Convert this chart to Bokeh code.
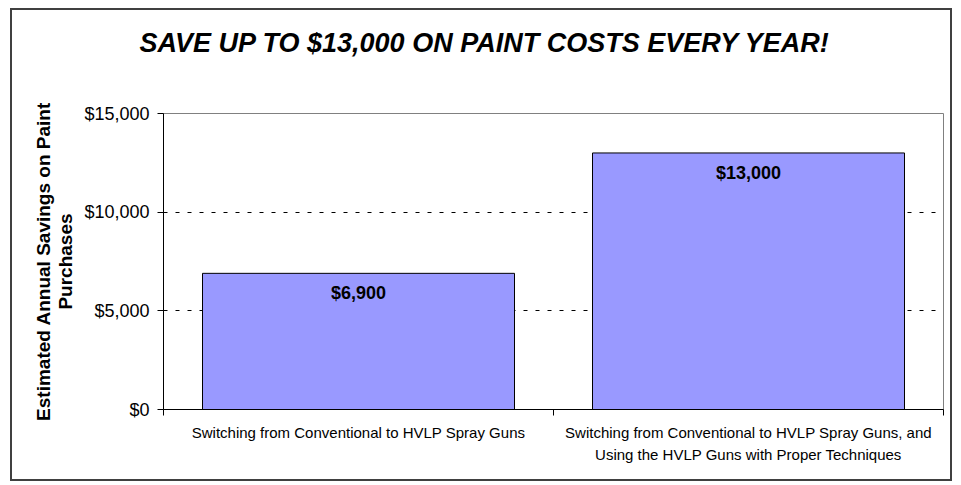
from bokeh.plotting import figure
from bokeh.models import FixedTicker, NumeralTickFormatter, ColumnDataSource, Title
from bokeh.embed import file_html
from bokeh.resources import INLINE
from bokeh.core.properties import value

categories = ["Switching from Conventional to HVLP Spray Guns",
              "Switching from Conventional to HVLP Spray Guns, and\nUsing the HVLP Guns with Proper Techniques"]
savings = [6900, 13000]
bar_labels = ["$6,900", "$13,000"]
y_ticks = [0, 5000, 10000, 15000]
title_text = "SAVE UP TO $13,000 ON PAINT COSTS EVERY YEAR!"
y_label = "Estimated Annual Savings on Paint\nPurchases"

FONT = "Liberation Sans"

xs = [i + 0.5 for i in range(len(categories))]
src = ColumnDataSource(dict(x=xs, top=savings, label=bar_labels))

p = figure(width=942, height=473, output_backend="svg", toolbar_location=None,
           x_range=(0, len(categories)), y_range=(0, y_ticks[-1]),
           min_border_left=151, min_border_right=11, min_border_top=103, min_border_bottom=74)
p.styles = {"border": "2px solid #404040", "margin-left": "10px", "margin-top": "8px"}
p.title.text = ""

spacer = Title(text=" ", text_font_size="1px", standoff=53)
p.add_layout(spacer, "above")
main_title = Title(text=title_text, align="left", offset=-24, standoff=0,
                   text_font=FONT, text_font_size="27px", text_font_style="bold italic", text_color="black")
p.add_layout(main_title, "above")

p.vbar(x="x", top="top", width=0.8, source=src, fill_color="#9999FF", line_color="black", line_width=1)
p.text(x="x", y="top", text="label", source=src, y_offset=10, text_align="center", text_baseline="top",
       text_font=value(FONT), text_font_size="18px", text_font_style="bold", text_color="black")

p.xgrid.visible = False
p.ygrid.ticker = FixedTicker(ticks=y_ticks)
p.ygrid.grid_line_color = "black"
p.ygrid.grid_line_dash = "4 8"
p.ygrid.grid_line_width = 1

p.outline_line_color = "#808080"
p.outline_line_width = 1

# y axis
p.yaxis.ticker = FixedTicker(ticks=y_ticks)
p.yaxis.formatter = NumeralTickFormatter(format="$0,0")
p.yaxis.major_label_text_font = FONT
p.yaxis.major_label_text_font_size = "18px"
p.yaxis.major_label_text_color = "black"
p.yaxis.major_tick_in = 0
p.yaxis.major_tick_out = 6
p.yaxis.minor_tick_line_color = None
p.yaxis.axis_line_color = "black"
p.yaxis.major_tick_line_color = "black"
p.yaxis.major_label_standoff = 8
p.yaxis.axis_label = y_label
p.yaxis.axis_label_text_font = FONT
p.yaxis.axis_label_text_font_size = "19px"
p.yaxis.axis_label_text_font_style = "bold"
p.yaxis.axis_label_text_color = "black"
p.yaxis.axis_label_text_line_height = 1.05
p.yaxis.axis_label_standoff = 5

# x axis
p.xaxis.ticker = FixedTicker(ticks=xs, minor_ticks=list(range(len(categories) + 1)))
p.xaxis.major_label_overrides = {x: c for x, c in zip(xs, categories)}
p.xaxis.major_label_text_font = FONT
p.xaxis.major_label_text_font_size = "15px"
p.xaxis.major_label_text_color = "black"
p.xaxis.major_label_text_line_height = 1.35
p.xaxis.major_tick_in = 0
p.xaxis.major_tick_out = 0
p.xaxis.minor_tick_in = 0
p.xaxis.minor_tick_out = 6
p.xaxis.minor_tick_line_color = "black"
p.xaxis.axis_line_color = "black"
p.xaxis.major_label_standoff = 8

open("out.html", "w").write(file_html(p, INLINE))
